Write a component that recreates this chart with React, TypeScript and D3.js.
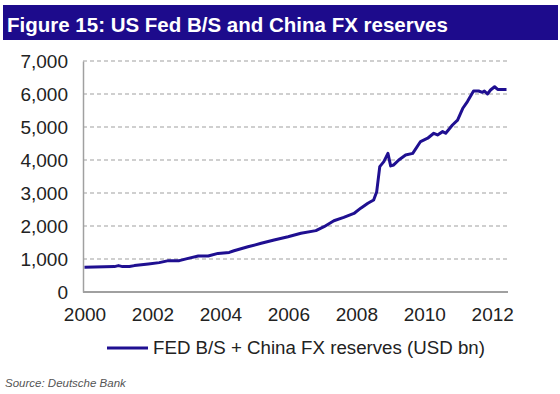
import React, { useEffect, useRef } from 'react';
import * as d3 from 'd3';

// decimal year / USD bn
const years = [
  2000.0, 2000.88, 2001.0, 2001.12, 2001.32, 2001.47, 2001.88, 2002.2, 2002.47, 2002.79,
  2003.05, 2003.35, 2003.64, 2003.93, 2004.26, 2004.4, 2004.81, 2005.2, 2005.58, 2005.99,
  2006.37, 2006.81, 2007.05, 2007.34, 2007.63, 2007.93, 2008.13, 2008.34, 2008.51, 2008.6,
  2008.69, 2008.81, 2008.93, 2009.01, 2009.1, 2009.25, 2009.45, 2009.66, 2009.89, 2010.1,
  2010.28, 2010.39, 2010.54, 2010.63, 2010.83, 2010.98, 2011.13, 2011.27, 2011.45, 2011.6,
  2011.71, 2011.77, 2011.86, 2011.95, 2012.07, 2012.16, 2012.42,
];
const reserves = [
  750, 770, 800, 770, 770, 800, 850, 890, 950, 950,
  1020, 1090, 1090, 1170, 1200, 1250, 1370, 1475, 1575, 1675,
  1780, 1860, 1980, 2160, 2260, 2380, 2540, 2690, 2790, 3040,
  3800, 3950, 4200, 3820, 3850, 4000, 4150, 4200, 4560, 4660,
  4810, 4760, 4860, 4810, 5060, 5210, 5560, 5770, 6090, 6090,
  6050, 6090, 6000, 6120, 6220, 6140, 6140,
];
const yTicks = [0, 1000, 2000, 3000, 4000, 5000, 6000, 7000];
const xTicks = [2000, 2002, 2004, 2006, 2008, 2010, 2012];

const title = 'Figure 15: US Fed B/S and China FX reserves';
const legendLabel = 'FED B/S + China FX reserves (USD bn)';
const source = 'Source: Deutsche Bank';

const W = 560;
const H = 394;
const navy = '#1d0b8c';
const lineColor = '#1f0f91';
const font = 'Arial, "Liberation Sans", sans-serif';

export default function App() {
  const ref = useRef<SVGSVGElement>(null);

  useEffect(() => {
    const svg = d3.select(ref.current);
    svg.selectAll('*').remove();

    const left = 83, right = 507, top = 61, bottom = 292;

    const x = d3.scaleLinear().domain([2000, 2012.42]).range([84.5, 506.5]);
    const y = d3.scaleLinear().domain([0, 7000]).range([bottom, top]);

    svg.append('rect').attr('width', W).attr('height', H).attr('fill', '#fff');

    // title bar
    svg.append('rect')
      .attr('x', 3).attr('y', 5).attr('width', 555).attr('height', 35)
      .attr('fill', navy);
    svg.append('text')
      .attr('x', 7).attr('y', 32)
      .attr('fill', '#fff')
      .attr('font-family', font)
      .attr('font-weight', 'bold')
      .attr('font-size', 20.5)
      .text(title);

    // gridlines
    svg.append('g')
      .selectAll('line')
      .data(yTicks.filter((d) => d > 0))
      .join('line')
      .attr('x1', left).attr('x2', right)
      .attr('y1', (d) => y(d)).attr('y2', (d) => y(d))
      .attr('stroke', '#a0a0a0')
      .attr('stroke-width', 1.2)
      .attr('stroke-dasharray', '4,3');

    // y axis
    const yAxis = svg.append('g')
      .attr('transform', `translate(${left},0)`)
      .call(d3.axisLeft(y).tickValues(yTicks).tickSize(0).tickPadding(15).tickFormat(d3.format(',')));
    yAxis.select('.domain').attr('stroke', '#a0a0a0').attr('stroke-width', 1.5);
    yAxis.selectAll('text')
      .attr('font-family', font)
      .attr('font-size', 19)
      .attr('fill', '#222');

    // x axis baseline
    svg.append('line')
      .attr('x1', left).attr('x2', 508)
      .attr('y1', bottom).attr('y2', bottom)
      .attr('stroke', '#a0a0a0').attr('stroke-width', 2);

    const xAxis = svg.append('g')
      .attr('transform', `translate(0,${bottom})`)
      .call(d3.axisBottom(x).tickValues(xTicks).tickSize(0).tickPadding(16).tickFormat(d3.format('d')));
    xAxis.select('.domain').remove();
    xAxis.selectAll('text')
      .attr('font-family', font)
      .attr('font-size', 19)
      .attr('fill', '#222');

    // series
    const line = d3.line<number>()
      .x((_, i) => x(years[i]))
      .y((d) => y(d));
    svg.append('path')
      .datum(reserves)
      .attr('d', line)
      .attr('fill', 'none')
      .attr('stroke', lineColor)
      .attr('stroke-width', 3)
      .attr('stroke-linejoin', 'round');

    // legend
    svg.append('line')
      .attr('x1', 107).attr('x2', 148)
      .attr('y1', 348).attr('y2', 348)
      .attr('stroke', lineColor).attr('stroke-width', 3);
    svg.append('text')
      .attr('x', 153).attr('y', 354)
      .attr('font-family', font)
      .attr('font-size', 17.5)
      .attr('textLength', 332)
      .attr('lengthAdjust', 'spacingAndGlyphs')
      .attr('fill', '#222')
      .text(legendLabel);

    svg.append('text')
      .attr('x', 5).attr('y', 387)
      .attr('font-family', font)
      .attr('font-size', 11.5)
      .attr('font-style', 'italic')
      .attr('fill', '#555')
      .text(source);
  }, []);

  return (
    <svg
      ref={ref}
      width={W}
      height={H}
      style={{ position: 'absolute', left: 0, top: 0 }}
    />
  );
}
